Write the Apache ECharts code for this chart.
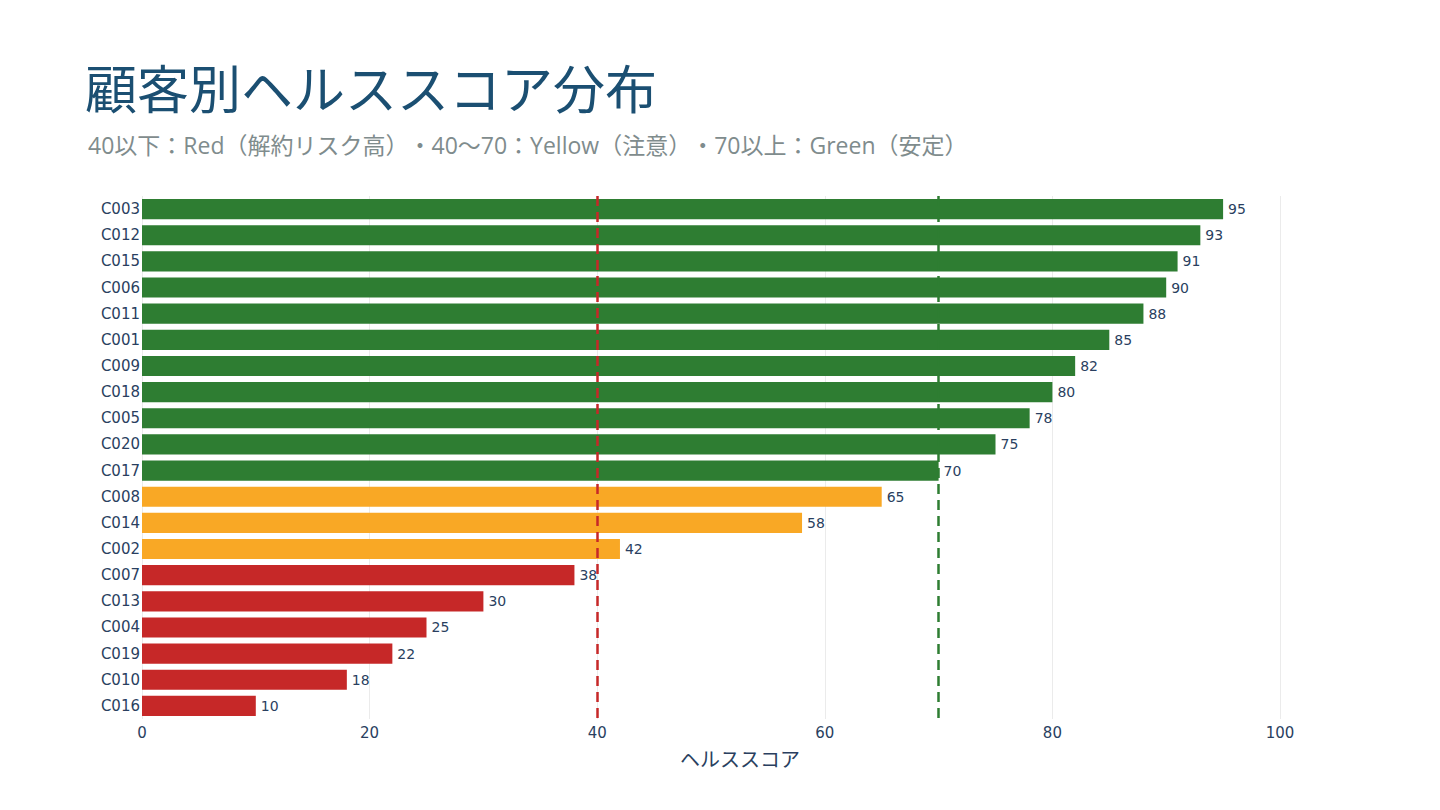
<!DOCTYPE html>
<html>
<head>
<meta charset="utf-8">
<script src="https://cdn.jsdelivr.net/npm/echarts@6/dist/echarts.min.js"></script>
<style>
  html, body { margin: 0; padding: 0; background: #fff; text-spacing-trim: space-all; }
  #main { width: 1440px; height: 810px; }
  #main svg text { text-spacing-trim: space-all; }
</style>
</head>
<body>
<div id="main"></div>
<script>
// 顧客ID（上から順）
var customers = ['C003', 'C012', 'C015', 'C006', 'C011', 'C001', 'C009', 'C018', 'C005', 'C020',
                 'C017', 'C008', 'C014', 'C002', 'C007', 'C013', 'C004', 'C019', 'C010', 'C016'];
var scores = [95, 93, 91, 90, 88, 85, 82, 80, 78, 75, 70, 65, 58, 42, 38, 30, 25, 22, 18, 10];
var xTicks = [0, 20, 40, 60, 80, 100];
var thresholds = [40, 70];

function colorOf(v) {
  if (v < 40) return '#c62828';
  if (v < 70) return '#f9a825';
  return '#2e7d32';
}

var chart = echarts.init(document.getElementById('main'), null, { renderer: 'svg' });
var option = {
  backgroundColor: '#ffffff',
  title: [{
    text: '顧客別ヘルススコア分布',
    left: 80,
    top: 55,
    textStyle: { color: '#1b4f72', fontSize: 52, fontWeight: 'normal', fontFamily: 'Noto Sans CJK JP' }
  }, {
    text: '40以下：Red（解約リスク高）・40〜70：Yellow（注意）・70以上：Green（安定）',
    left: 83,
    top: 128,
    textStyle: { color: '#7f8c8d', fontSize: 23, fontWeight: 'normal', fontFamily: '"Open Sans", "Noto Sans CJK JP"' }
  }],
  grid: { left: 142, right: 160, top: 196, bottom: 91 },
  xAxis: {
    type: 'value',
    min: 0,
    max: 100,
    interval: 20,
    name: 'ヘルススコア',
    nameLocation: 'middle',
    nameGap: 29,
    nameTextStyle: { color: '#2a3f5f', fontSize: 20, fontFamily: 'Noto Sans CJK JP', padding: [0, 0, 0, 58] },
    axisLine: { show: false },
    axisTick: { show: false },
    axisLabel: {
      color: '#2a3f5f', fontSize: 15, fontFamily: 'DejaVu Sans', margin: 6,
      formatter: function (v) { return xTicks.indexOf(v) >= 0 ? String(v) : ''; }
    },
    splitLine: { lineStyle: { color: '#ebebeb', width: 1 } }
  },
  yAxis: {
    type: 'category',
    data: customers,
    inverse: true,
    axisLine: { show: false },
    axisTick: { show: false },
    axisLabel: { color: '#2a3f5f', fontSize: 15, fontFamily: 'DejaVu Sans', margin: 2 },
    splitLine: { show: false }
  },
  series: [{
    type: 'bar',
    barCategoryGap: '23%',
    data: scores.map(function (v) {
      return { value: v, itemStyle: { color: colorOf(v) } };
    }),
    label: {
      show: true,
      position: 'right',
      distance: 5,
      color: '#2a3f5f',
      fontSize: 14,
      fontFamily: 'DejaVu Sans'
    },
    markLine: {
      silent: true,
      symbol: ['none', 'none'],
      label: { show: false },
      data: [
        { xAxis: thresholds[0], lineStyle: { color: '#c62828', type: [10, 6], width: 2.5 } },
        { xAxis: thresholds[1], lineStyle: { color: '#2e7d32', type: [10, 6], width: 2.5 } }
      ]
    }
  }]
};
chart.setOption(option);
</script>
</body>
</html>
